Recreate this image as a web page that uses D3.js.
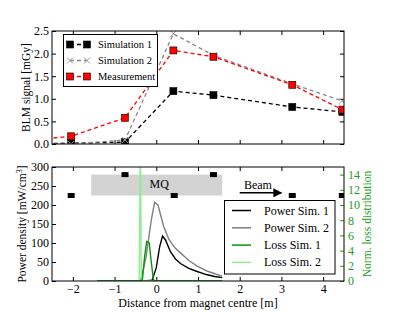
<!DOCTYPE html>
<html>
<head>
<meta charset="utf-8">
<script src="https://cdn.jsdelivr.net/npm/d3@7"></script>
<style>
  body { margin: 0; background: #fff; }
  text { font-family: "Liberation Serif", "DejaVu Serif", serif; }
</style>
</head>
<body>
<div id="chart"></div>
<script>
// BLM readings (top panel). first point lies left of the visible range
const blmPos  = [-3.3, -2.04, -0.75, 0.41, 1.37, 3.26, 4.46];
const sim1    = [0.0, 0.02, 0.04, 1.17, 1.08, 0.82, 0.71];
const sim2    = [0.0, 0.0, 0.09, 2.44, 1.96, 1.33, 0.95];
const meas    = [0.06, 0.17, 0.58, 2.07, 1.93, 1.31, 0.76];

// BLM locations drawn in the bottom panel
const markX = [-2.04, -0.75, 0.43, 1.37, 3.26, 4.46];
const markY = [225, 280, 225, 280, 225, 225];

// power density [mW/cm3]
const pow1X = [-1.42, -0.3, -0.1, 0.0, 0.08, 0.15, 0.22, 0.34, 0.46, 0.58, 0.78, 0.98, 1.2, 1.4, 1.58];
const pow1Y = [0, 0, 2, 35, 90, 118, 108, 77, 58, 46, 33, 25, 17, 12, 9];
const pow2X = [-1.42, -0.45, -0.37, -0.25, -0.12, -0.04, 0.04, 0.1, 0.18, 0.3, 0.44, 0.58, 0.78, 0.98, 1.2, 1.4, 1.58];
const pow2Y = [0, 0, 3, 60, 160, 207, 200, 175, 143, 110, 88, 74, 54, 39, 27, 19, 13];

// normalised loss distribution (right axis)
const loss1X = [-1.42, -0.36, -0.33, -0.28, -0.23, -0.17, -0.12, -0.07, -0.03, 1.58];
const loss1Y = [0, 0, 0.3, 3.2, 5.2, 5.0, 2.5, 0.2, 0, 0];
const loss2X = [-1.42, -0.41, -0.38, -0.36, 1.58];
const loss2Y = [0, 0, 20, 0, 0];

const xTicks = [-2, -1, 0, 1, 2, 3, 4];
const topTicks = [0, 0.5, 1.0, 1.5, 2.0, 2.5];
const powTicks = [0, 50, 100, 150, 200, 250, 300];
const lossTicks = [0, 2, 4, 6, 8, 10, 12, 14];

const W = 415, H = 312;
const left = 52, right = 344;
const topP = {t: 31, b: 144};
const botP = {t: 167, b: 281};
const GREEN = "#1e9b1e";
const fmtMinus = d => String(d).replace("-", "\u2212");

var svg = d3.select("#chart").append("svg")
  .attr("width", W).attr("height", H);

var x = d3.scaleLinear().domain([-2.5, 4.5]).range([left, right]);
var yTop = d3.scaleLinear().domain([0, 2.5]).range([topP.b, topP.t]);
var yPow = d3.scaleLinear().domain([0, 300]).range([botP.b, botP.t]);
var yLoss = d3.scaleLinear().domain([0, 15]).range([botP.b, botP.t]);

var defs = svg.append("defs");
defs.append("clipPath").attr("id", "clipTop").append("rect")
  .attr("x", left).attr("y", topP.t).attr("width", right - left).attr("height", topP.b - topP.t);
defs.append("clipPath").attr("id", "clipBot").append("rect")
  .attr("x", left).attr("y", botP.t).attr("width", right - left).attr("height", botP.b - botP.t);
defs.append("marker").attr("id", "arrow")
  .attr("viewBox", "0 0 10 10").attr("refX", 9).attr("refY", 5)
  .attr("markerWidth", 6).attr("markerHeight", 6).attr("orient", "auto")
  .append("path").attr("d", "M0,0L10,5L0,10z").attr("fill", "#000");

// inward ticks on all sides, like the classic style
function frame(g, yScale, yVals, fmt, p, showX) {
  g.append("g").attr("transform", "translate(0," + p.b + ")")
    .call(d3.axisBottom(x).tickValues(xTicks).tickSizeInner(-4).tickSizeOuter(0)
      .tickPadding(3).tickFormat(showX ? fmtMinus : ""));
  g.append("g").attr("transform", "translate(0," + p.t + ")")
    .call(d3.axisTop(x).tickValues(xTicks).tickSizeInner(-4).tickSizeOuter(0).tickFormat(""));
  g.append("g").attr("transform", "translate(" + left + ",0)")
    .call(d3.axisLeft(yScale).tickValues(yVals).tickSizeInner(-4).tickSizeOuter(0)
      .tickPadding(3).tickFormat(fmt));
  g.selectAll(".domain").remove();
  g.selectAll(".tick text").attr("font-size", 12).attr("font-family", "Liberation Serif");
  g.selectAll(".tick line").attr("stroke", "#000");
}

// ---------- top panel ----------
var gTop = svg.append("g");
frame(gTop, yTop, topTicks, d3.format(".1f"), topP, false);
gTop.append("g").attr("transform", "translate(" + right + ",0)")
  .call(d3.axisRight(yTop).tickValues(topTicks).tickSizeInner(-4).tickSizeOuter(0).tickFormat(""))
  .select(".domain").remove();

var series = [
  {name: "Simulation 1", vals: sim1, color: "#000", mark: "sq", fill: "#000"},
  {name: "Simulation 2", vals: sim2, color: "#888", mark: "x", fill: "#999"},
  {name: "Measurement", vals: meas, color: "#f00", mark: "sq", fill: "#f00"}
];

var plotTop = gTop.append("g").attr("clip-path", "url(#clipTop)");
var line = d3.line().x(d => x(d[0])).y(d => yTop(d[1]));

function drawMark(g, s, cx, cy) {
  if (s.mark === "sq") {
    g.append("rect").attr("x", cx - 3.5).attr("y", cy - 3.5).attr("width", 7).attr("height", 7)
      .attr("fill", s.fill).attr("stroke", "#000").attr("stroke-width", 0.6);
  } else {
    g.append("path").attr("d", "M" + (cx - 3) + "," + (cy - 3) + "L" + (cx + 3) + "," + (cy + 3) +
      "M" + (cx - 3) + "," + (cy + 3) + "L" + (cx + 3) + "," + (cy - 3))
      .attr("stroke", s.fill).attr("stroke-width", 1).attr("fill", "none");
  }
}

series.forEach(s => {
  var pts = blmPos.map((p, i) => [p, s.vals[i]]);
  plotTop.append("path").datum(pts).attr("d", line)
    .attr("fill", "none").attr("stroke", s.color).attr("stroke-width", 1.3)
    .attr("stroke-dasharray", "4,3");
  pts.forEach(d => drawMark(plotTop, s, x(d[0]), yTop(d[1])));
});

gTop.append("rect").attr("x", left).attr("y", topP.t).attr("width", right - left)
  .attr("height", topP.b - topP.t).attr("fill", "none").attr("stroke", "#000").attr("stroke-width", 1);

// top legend
var lgTop = gTop.append("g");
lgTop.append("rect").attr("x", 63.5).attr("y", 34.5).attr("width", 94).attr("height", 52)
  .attr("fill", "#fff").attr("stroke", "#000").attr("stroke-width", 1);
series.forEach((s, i) => {
  var ly = 44.5 + i * 16;
  lgTop.append("line").attr("x1", 70).attr("x2", 87).attr("y1", ly).attr("y2", ly)
    .attr("stroke", s.color).attr("stroke-width", 1.3).attr("stroke-dasharray", "4,3");
  drawMark(lgTop, s, 70, ly);
  drawMark(lgTop, s, 87, ly);
  lgTop.append("text").attr("x", 98).attr("y", ly + 3.8).attr("font-size", 10.5).text(s.name);
});

gTop.append("text").attr("transform", "translate(30," + ((topP.t + topP.b) / 2) + ") rotate(-90)")
  .attr("text-anchor", "middle").attr("font-size", 11.5).text("BLM signal [mGy]");

// ---------- bottom panel ----------
var gBot = svg.append("g");
frame(gBot, yPow, powTicks, d3.format("d"), botP, true);

var rightAx = gBot.append("g").attr("transform", "translate(" + right + ",0)")
  .call(d3.axisRight(yLoss).tickValues(lossTicks).tickSizeInner(-4).tickSizeOuter(0).tickPadding(4));
rightAx.select(".domain").remove();
rightAx.selectAll(".tick line").attr("stroke", GREEN);
rightAx.selectAll(".tick text").attr("fill", GREEN).attr("font-size", 12).attr("font-family", "Liberation Serif");

var plotBot = gBot.append("g").attr("clip-path", "url(#clipBot)");

// magnet outline
plotBot.append("rect").attr("x", x(-1.56)).attr("y", yPow(280))
  .attr("width", x(1.58) - x(-1.56)).attr("height", yPow(225) - yPow(280))
  .attr("fill", "#d3d3d3");
plotBot.append("text").attr("x", x(0.07)).attr("y", yPow(244)).attr("text-anchor", "middle")
  .attr("font-size", 12).text("MQ");

// BLM positions
plotBot.selectAll(".blm").data(markX).enter().append("rect")
  .attr("x", d => x(d) - 3.5).attr("y", (d, i) => yPow(markY[i]) - 2.5)
  .attr("width", 7).attr("height", 5).attr("fill", "#000");

var powLine = d3.line().x(d => x(d[0])).y(d => yPow(d[1]));
var lossLine = d3.line().x(d => x(d[0])).y(d => yLoss(d[1]));

var curves = [
  {name: "Power Sim. 1", xs: pow1X, ys: pow1Y, color: "#000", gen: powLine},
  {name: "Power Sim. 2", xs: pow2X, ys: pow2Y, color: "#808080", gen: powLine},
  {name: "Loss Sim. 1", xs: loss1X, ys: loss1Y, color: "#0a960a", gen: lossLine},
  {name: "Loss Sim. 2", xs: loss2X, ys: loss2Y, color: "#90ee90", gen: lossLine}
];
[curves[0], curves[1], curves[3], curves[2]].forEach(c => {
  plotBot.append("path").datum(c.xs.map((v, i) => [v, c.ys[i]])).attr("d", c.gen)
    .attr("fill", "none").attr("stroke", c.color).attr("stroke-width", 1.4);
});

gBot.append("rect").attr("x", left).attr("y", botP.t).attr("width", right - left)
  .attr("height", botP.b - botP.t).attr("fill", "none").attr("stroke", "#000").attr("stroke-width", 1);

// beam direction
gBot.append("line").attr("x1", x(2.0)).attr("x2", x(3.0)).attr("y1", yPow(232)).attr("y2", yPow(232))
  .attr("stroke", "#000").attr("stroke-width", 1.5).attr("marker-end", "url(#arrow)");
gBot.append("text").attr("x", x(2.1)).attr("y", yPow(241)).attr("font-size", 12).text("Beam");

// bottom legend
var lgBot = gBot.append("g");
lgBot.append("rect").attr("x", 224.5).attr("y", 200.5).attr("width", 110.5).attr("height", 73.5)
  .attr("fill", "#fff").attr("stroke", "#000").attr("stroke-width", 1);
curves.forEach((c, i) => {
  var ly = 210.5 + i * 17.3;
  lgBot.append("line").attr("x1", 232).attr("x2", 251).attr("y1", ly).attr("y2", ly)
    .attr("stroke", c.color).attr("stroke-width", 1.5);
  lgBot.append("text").attr("x", 264).attr("y", ly + 4).attr("font-size", 12).text(c.name);
});

// axis labels
gBot.append("text").attr("transform", "translate(26," + ((botP.t + botP.b) / 2) + ") rotate(-90)")
  .attr("text-anchor", "middle").attr("font-size", 11.5)
  .html("Power density [mW/cm<tspan dy='-4' font-size='8'>3</tspan><tspan dy='4'>]</tspan>");
gBot.append("text").attr("transform", "translate(371," + ((botP.t + botP.b) / 2) + ") rotate(-90)")
  .attr("text-anchor", "middle").attr("font-size", 11.5).attr("fill", GREEN)
  .text("Norm. loss distribution");
svg.append("text").attr("x", (left + right) / 2).attr("y", 307).attr("text-anchor", "middle")
  .attr("font-size", 12).text("Distance from magnet centre [m]");
</script>
</body>
</html>
